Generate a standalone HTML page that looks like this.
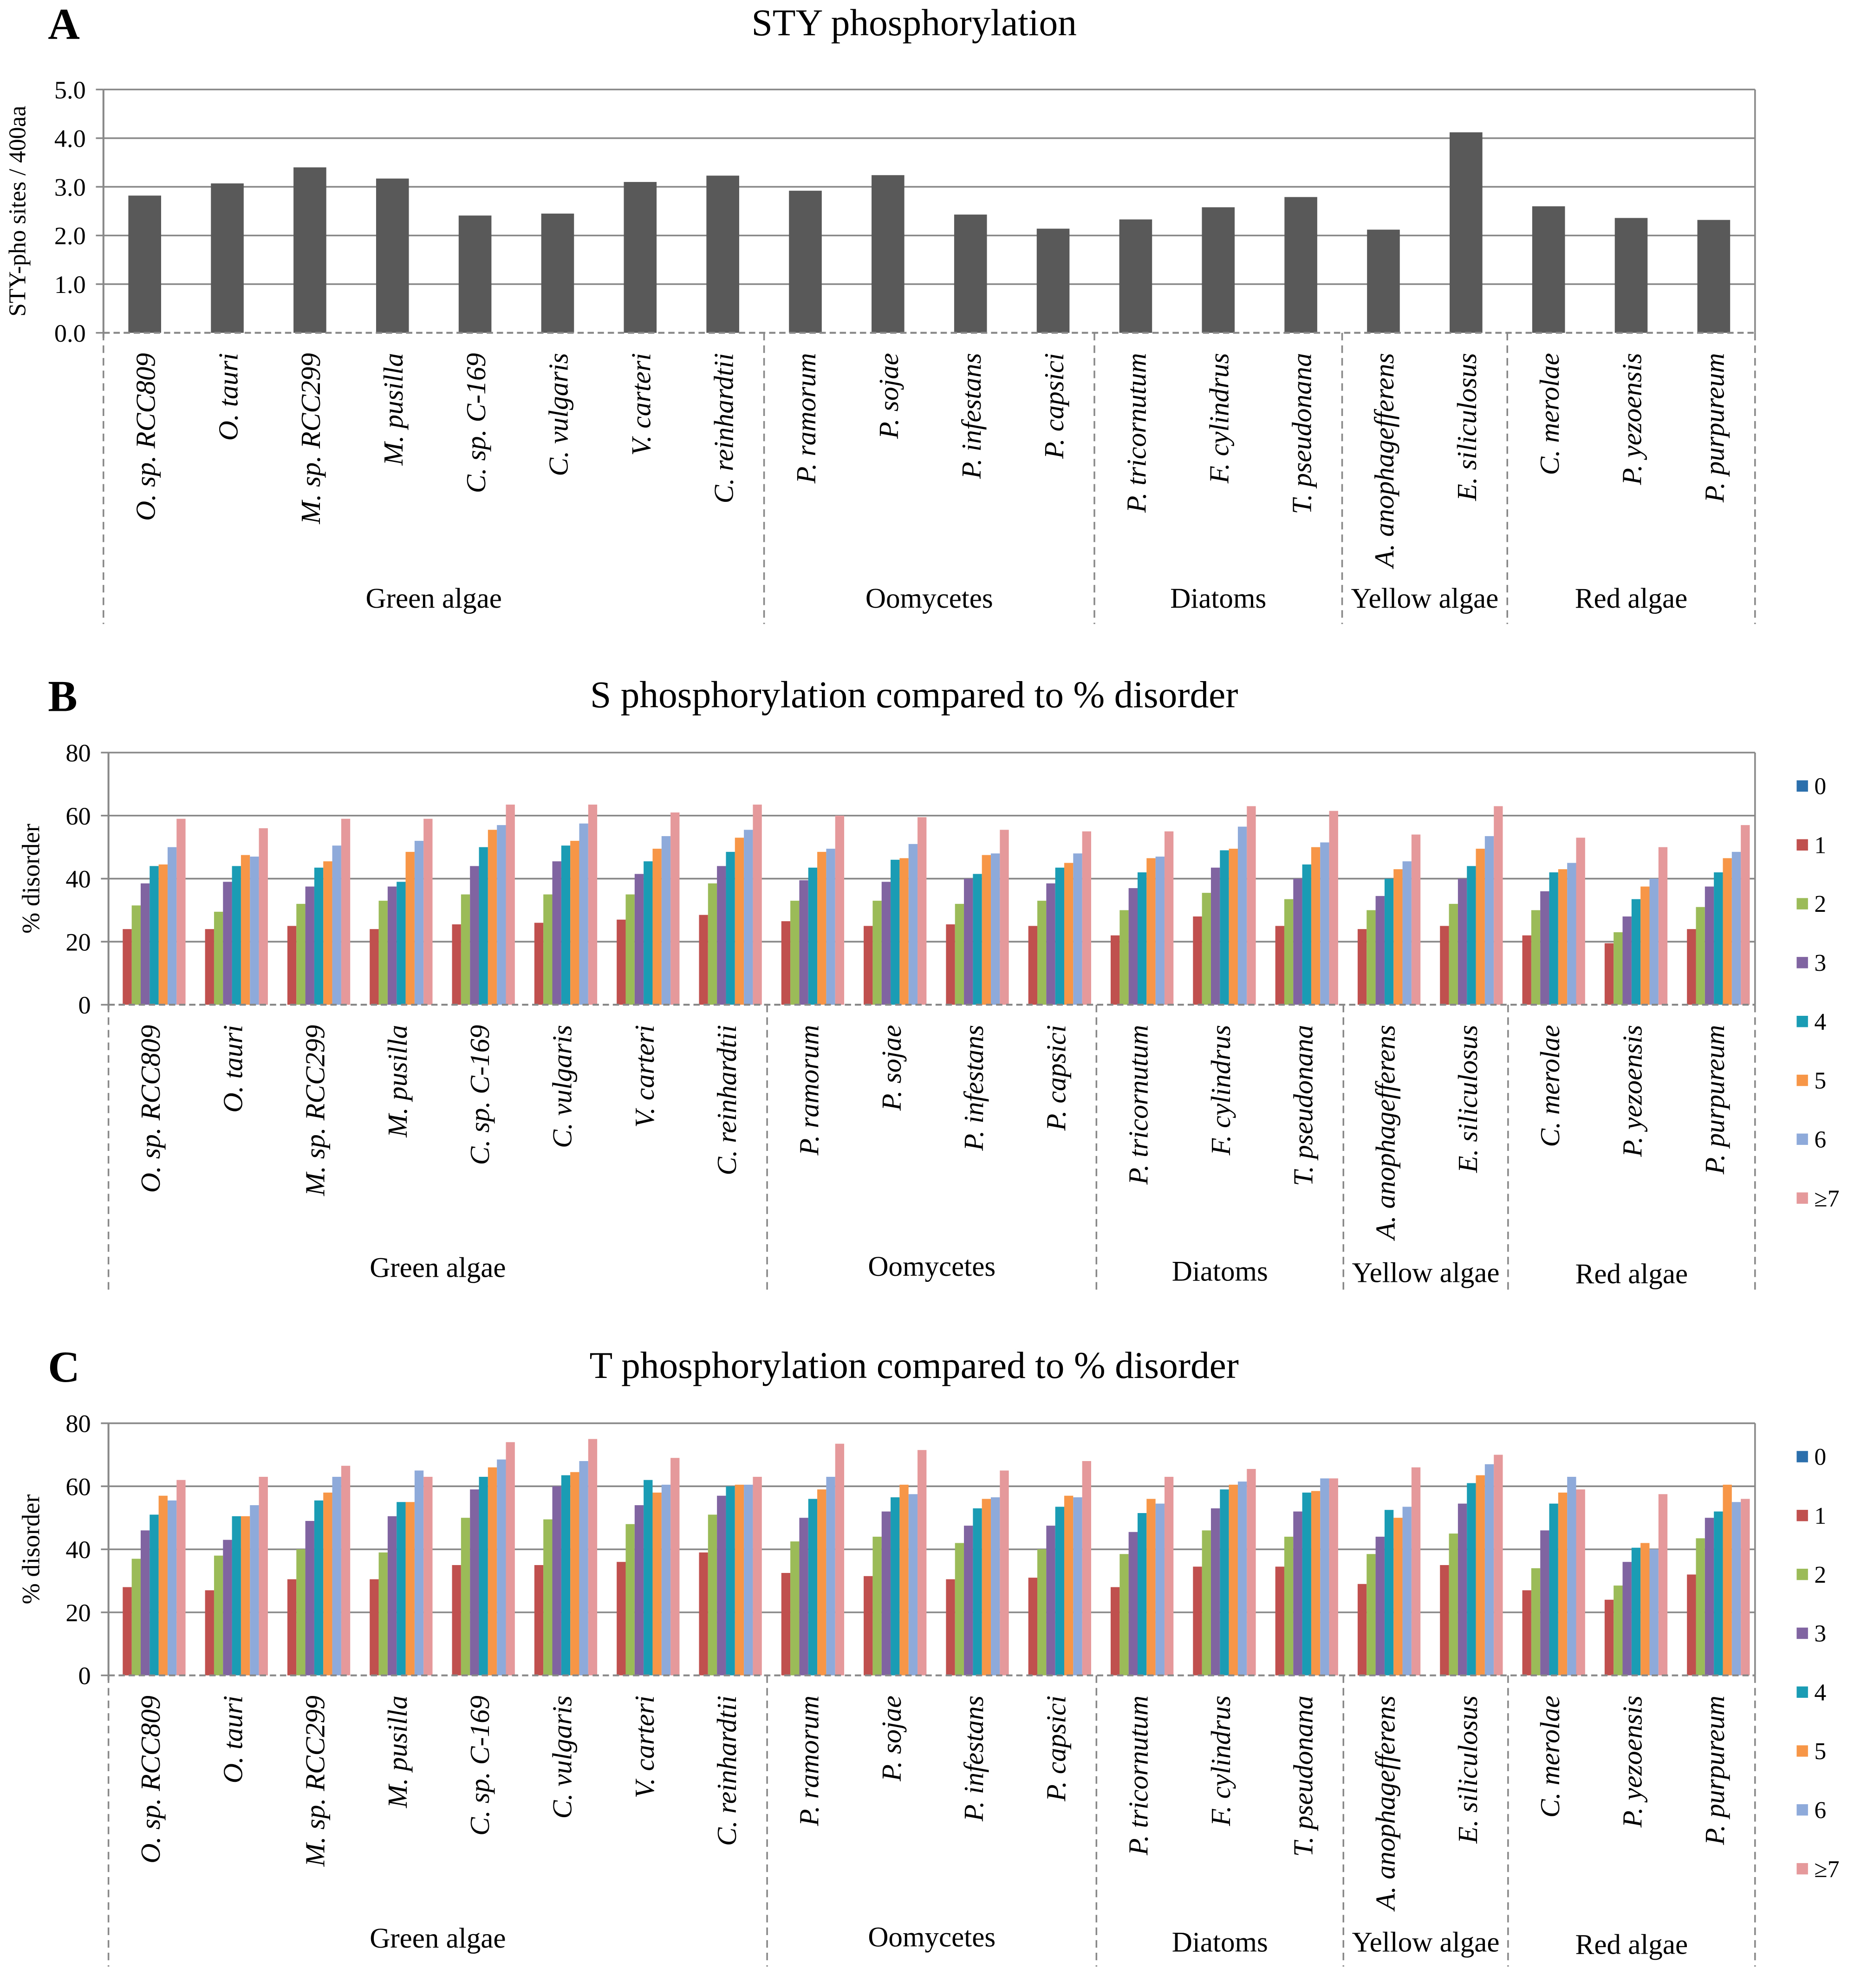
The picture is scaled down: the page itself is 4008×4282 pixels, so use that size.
<!DOCTYPE html>
<html><head><meta charset="utf-8"><style>
html,body{margin:0;padding:0;background:#fff}
svg{display:block}
text{font-family:"Liberation Serif",serif;fill:#000}
</style></head><body>
<svg id="chart" width="4008" height="4282" viewBox="0 0 1476 1577" xmlns="http://www.w3.org/2000/svg"></svg>
<script>
const species=["O. sp. RCC809","O. tauri","M. sp. RCC299","M. pusilla","C. sp. C-169","C. vulgaris","V. carteri","C. reinhardtii","P. ramorum","P. sojae","P. infestans","P. capsici","P. tricornutum","F. cylindrus","T. pseudonana","A. anophagefferens","E. siliculosus","C. merolae","P. yezoensis","P. purpureum"];
const groupNames=["Green algae","Oomycetes","Diatoms","Yellow algae","Red  algae"];
const groupSizes=[8,4,3,2,3];
const styValues=[2.82,3.07,3.40,3.17,2.41,2.45,3.10,3.23,2.92,3.24,2.43,2.14,2.33,2.58,2.79,2.12,4.12,2.60,2.36,2.32];
const styTicks=["0.0","1.0","2.0","3.0","4.0","5.0"];
const seriesNames=["0","1","2","3","4","5","6","≥7"];
const pctTicks=["0","20","40","60","80"];
const sS1=[24,24,25,24,25.5,26,27,28.5,26.5,25,25.5,25,22,28,25,24,25,22,19.5,24];
const sS2=[31.5,29.5,32,33,35,35,35,38.5,33,33,32,33,30,35.5,33.5,30,32,30,23,31];
const sS3=[38.5,39,37.5,37.5,44,45.5,41.5,44,39.5,39,40,38.5,37,43.5,40,34.5,40,36,28,37.5];
const sS4=[44,44,43.5,39,50,50.5,45.5,48.5,43.5,46,41.5,43.5,42,49,44.5,40,44,42,33.5,42];
const sS5=[44.5,47.5,45.5,48.5,55.5,52,49.5,53,48.5,46.5,47.5,45,46.5,49.5,50,43,49.5,43,37.5,46.5];
const sS6=[50,47,50.5,52,57,57.5,53.5,55.5,49.5,51,48,48,47,56.5,51.5,45.5,53.5,45,40,48.5];
const sS7=[59,56,59,59,63.5,63.5,61,63.5,60,59.5,55.5,55,55,63,61.5,54,63,53,50,57];
const tS1=[28,27,30.5,30.5,35,35,36,39,32.5,31.5,30.5,31,28,34.5,34.5,29,35,27,24,32];
const tS2=[37,38,40,39,50,49.5,48,51,42.5,44,42,40,38.5,46,44,38.5,45,34,28.5,43.5];
const tS3=[46,43,49,50.5,59,60,54,57,50,52,47.5,47.5,45.5,53,52,44,54.5,46,36,50];
const tS4=[51,50.5,55.5,55,63,63.5,62,60,56,56.5,53,53.5,51.5,59,58,52.5,61,54.5,40.5,52];
const tS5=[57,50.5,58,55,66,64.5,58,60.5,59,60.5,56,57,56,60.5,58.5,50,63.5,58,42,60.5];
const tS6=[55.5,54,63,65,68.5,68,60.5,60.5,63,57.5,56.5,56.5,54.5,61.5,62.5,53.5,67,63,40,55];
const tS7=[62,63,66.5,63,74,75,69,63,73.5,71.5,65,68,63,65.5,62.5,66,70,59,57.5,56];
const colors=["#2c6fad","#c0504d","#9bbb59","#8064a2","#1a9cb5","#f79646","#8eaadb","#e6999a"];

const svg=document.getElementById('chart');
const NS="http://www.w3.org/2000/svg";
function mk(tag,attrs,parent){const e=document.createElementNS(NS,tag);for(const k in attrs)e.setAttribute(k,attrs[k]);(parent||svg).appendChild(e);return e;}
function txt(s,attrs,parent){const e=mk('text',attrs,parent);e.textContent=s;return e;}

function panel(cfg){
  const g=mk('g',{});
  
  
  const {x0,x1,yTop,yBot,ymax}=cfg;
  const n=species.length, cw=(x1-x0)/n;
  const X=i=>x0+cw*(i+0.5);
  const Y=v=>yBot-(v/ymax)*(yBot-yTop);
  let t=txt(cfg.letter,{x:38,y:cfg.titleY+3,'font-size':35,'font-weight':'bold'},g);
  
  t=txt(cfg.title,{x:725,y:cfg.titleY,'font-size':30,'text-anchor':'middle'},g);
  
  cfg.ticks.forEach((lab,k)=>{
    const v=k*cfg.step, y=Y(v);
    if(k>0){const l=mk('line',{x1:x0,x2:x1,y1:y,y2:y,stroke:'#888','stroke-width':1.3},g);
      }
    mk('line',{x1:x0-6,x2:x0,y1:y,y2:y,stroke:'#888','stroke-width':1.3},g);
    const tl=txt(lab,{x:x0-14,y:y+7,'font-size':20,'text-anchor':'end'},g);
    
  });
  mk('line',{x1:x1,x2:x1,y1:yTop,y2:yBot,stroke:'#888','stroke-width':1.3},g);
  const ax=mk('line',{x1:x0,x2:x0,y1:yTop,y2:yBot+4,stroke:'#888','stroke-width':1.5},g);
  
  const yt=txt(cfg.ytitle,{x:0,y:0,'font-size':cfg.ytSize,'text-anchor':'middle',transform:`translate(${cfg.ytX},${(yTop+yBot)/2}) rotate(-90)`},g);
  
  if(cfg.single){
    cfg.single.forEach((v,i)=>{
      const r=mk('rect',{x:X(i)-13,y:Y(v),width:26,height:yBot-Y(v),fill:'#595959'},g);
      
      
    });
  } else {
    const bw=cw*0.109;
    cfg.series.forEach((arr,s)=>{
      arr.forEach((v,i)=>{
        const bx=X(i)-4*bw+s*bw;
        const r=mk('rect',{x:bx,y:Y(v),width:bw,height:Math.max(0,yBot-Y(v)),fill:colors[s]},g);
        
        
      });
    });
    seriesNames.forEach((nm,s)=>{
      const ly=cfg.legY+s*46.7;
      const lg=mk('g',{},g);
      
      mk('rect',{x:1425,y:ly-8,width:9,height:9,fill:colors[s]},lg);
      txt(nm,{x:1439,y:ly+3,'font-size':19},lg);
    });
  }
  const bl=mk('line',{x1:x0,x2:x1,y1:yBot,y2:yBot,stroke:'#888','stroke-width':1.5,'stroke-dasharray':'5,3'},g);
  
  species.forEach((sp,i)=>{
    const l=txt(sp,{x:0,y:0,'font-size':22,'font-style':'italic','text-anchor':'end',transform:`translate(${X(i)+8},${yBot+16}) rotate(-90)`},g);
    
  });
  let start=0;
  const sepX=[x0];
  groupSizes.forEach(sz=>{start+=sz;sepX.push(x0+cw*start);});
  sepX.forEach(sx=>{
    const d=mk('line',{x1:sx,x2:sx,y1:yBot,y2:yBot+cfg.sepLen,stroke:'#888','stroke-width':1.3,'stroke-dasharray':'6,4'},g);
    
  });
  groupNames.forEach((gn,k)=>{
    const cx=(sepX[k]+sepX[k+1])/2;
    const gt=txt(gn,{x:cx,y:yBot+cfg.groupDy[k],'font-size':22.5,'text-anchor':'middle'},g);
    
  });
}

panel({name:'panel-a-sty',letter:'A',title:'STY phosphorylation',titleY:28,x0:82,x1:1392,yTop:71,yBot:264,ymax:5,step:1,ticks:styTicks,ytitle:'STY-pho sites / 400aa',ytX:20,ytSize:19,single:styValues,sepLen:231,groupDy:[218,218,218,218,218]});
panel({name:'panel-b-s',letter:'B',title:'S phosphorylation compared to % disorder',titleY:561,x0:86,x1:1392,yTop:597,yBot:797,ymax:80,step:20,ticks:pctTicks,ytitle:'% disorder',ytX:31,ytSize:20,series:[species.map(()=>0),sS1,sS2,sS3,sS4,sS5,sS6,sS7],legY:627,sepLen:230,groupDy:[216,215,219,220,221]});
panel({name:'panel-c-t',letter:'C',title:'T phosphorylation compared to % disorder',titleY:1093,x0:86,x1:1392,yTop:1129,yBot:1329,ymax:80,step:20,ticks:pctTicks,ytitle:'% disorder',ytX:31,ytSize:20,series:[species.map(()=>0),tS1,tS2,tS3,tS4,tS5,tS6,tS7],legY:1159,sepLen:231,groupDy:[216,215,219,219,221]});
</script>
</body></html>
